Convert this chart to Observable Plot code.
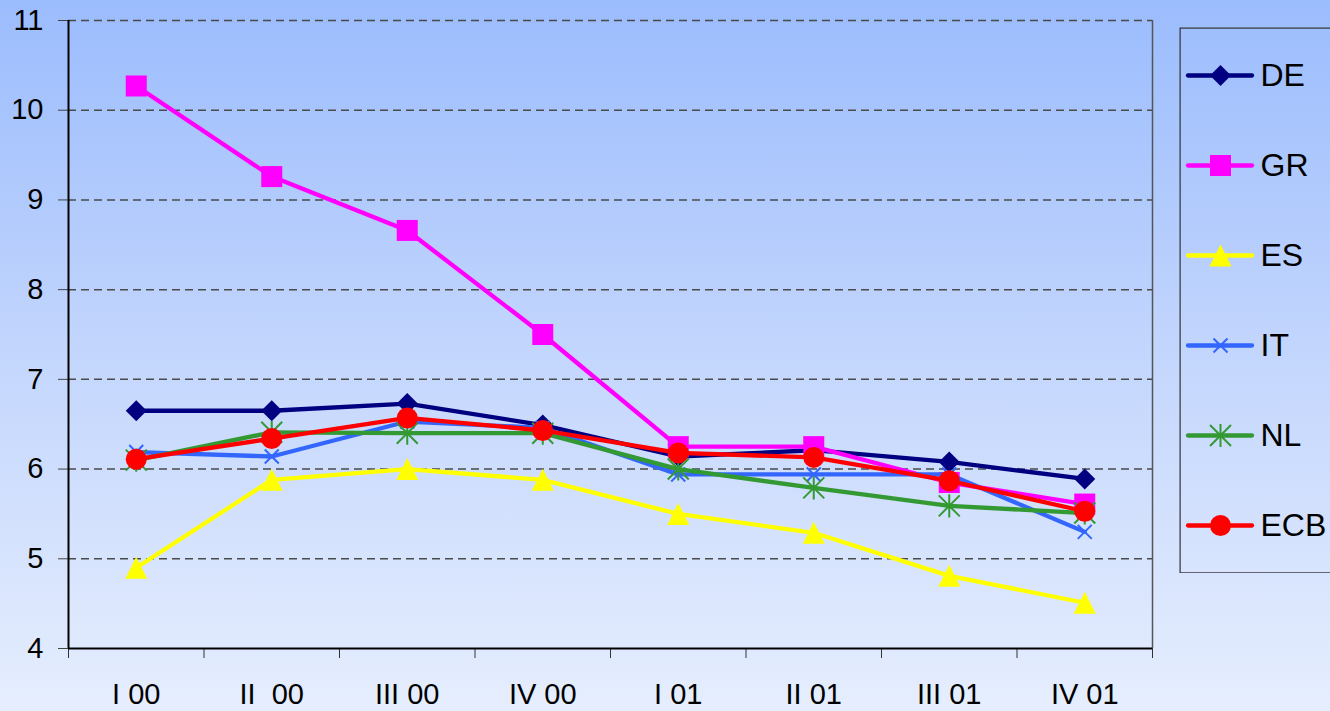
<!DOCTYPE html>
<html>
<head>
<meta charset="utf-8">
<script src="https://cdn.jsdelivr.net/npm/d3@7"></script>
<script src="https://cdn.jsdelivr.net/npm/@observablehq/plot@0.6"></script>
<style>
  html, body { margin: 0; padding: 0; width: 1330px; height: 711px; overflow: hidden; }
  body { background: linear-gradient(to bottom, #9bbcfd 0%, #c3d6fd 50%, #e6eefe 100%); }
  #wrap { position: relative; width: 1330px; height: 711px; }
  #legend { position: absolute; left: 1179px; top: 27px; width: 170px; }
  svg { max-width: none !important; }
</style>
</head>
<body>
<div id="wrap"><div id="chart"></div><div id="legend"></div></div>
<script>
// Quarterly values 2000–2001
const quarters = ["I 00", "II\u00a0 00", "III 00", "IV 00", "I 01", "II 01", "III 01", "IV 01"];
const series = ["DE", "GR", "ES", "IT", "NL", "ECB"];
const DE  = [6.65, 6.65, 6.73, 6.49, 6.14, 6.21, 6.08, 5.89];
const GR  = [10.27, 9.26, 8.66, 7.50, 6.25, 6.25, 5.85, 5.61];
const ES  = [4.90, 5.88, 6.00, 5.88, 5.50, 5.29, 4.81, 4.51];
const IT  = [6.19, 6.14, 6.53, 6.46, 5.94, 5.94, 5.94, 5.30];
const NL  = [6.10, 6.41, 6.40, 6.40, 6.00, 5.79, 5.59, 5.51];
const ECB = [6.11, 6.34, 6.57, 6.43, 6.18, 6.13, 5.87, 5.53];
const yTicks = [4, 5, 6, 7, 8, 9, 10, 11];

const values = {DE, GR, ES, IT, NL, ECB};
const colors = {DE: "#000080", GR: "#ff00ff", ES: "#ffff00", IT: "#3366ff", NL: "#339933", ECB: "#ff0000"};

// Marker shapes; r is the half-width of each shape
const shape = f => ({draw(ctx, size) { f(ctx, Math.sqrt(size / Math.PI)); }});
const diamond = shape((c, r) => { c.moveTo(0, -r); c.lineTo(r, 0); c.lineTo(0, r); c.lineTo(-r, 0); c.closePath(); });
const square = shape((c, r) => { c.rect(-r, -r, 2 * r, 2 * r); });
const triangle = shape((c, r) => { c.moveTo(0, -r); c.lineTo(r, r); c.lineTo(-r, r); c.closePath(); });
const cross = shape((c, r) => { c.moveTo(-r, -r); c.lineTo(r, r); c.moveTo(r, -r); c.lineTo(-r, r); });
const star = shape((c, r) => { c.moveTo(-r, -r); c.lineTo(r, r); c.moveTo(r, -r); c.lineTo(-r, r); c.moveTo(0, -r * 1.1); c.lineTo(0, r * 1.1); });
const circle = shape((c, r) => { c.moveTo(r, 0); c.arc(0, 0, r, 0, 2 * Math.PI); });

const markers = {
  DE:  {symbol: diamond,  r: 10.5, filled: true},
  GR:  {symbol: square,   r: 10.5, filled: true},
  ES:  {symbol: triangle, r: 11,   filled: true},
  IT:  {symbol: cross,    r: 7,    filled: false},
  NL:  {symbol: star,     r: 10.5, filled: false},
  ECB: {symbol: circle,   r: 10.5, filled: true}
};

function dotFor(name, data, opts) {
  const m = markers[name];
  return Plot.dot(data, {
    ...opts,
    symbol: m.symbol,
    r: m.r,
    fill: m.filled ? colors[name] : "none",
    stroke: m.filled ? "none" : colors[name],
    strokeWidth: m.filled ? 0 : 2
  });
}

const idx = d3.range(quarters.length);
const xDomain = [-0.5, quarters.length - 0.5];
const bounds = d3.range(quarters.length + 1).map(i => i - 0.5);

const seriesMarks = series.flatMap(name => {
  const pts = idx.map(i => ({i, v: values[name][i]}));
  return [
    Plot.line(pts, {x: "i", y: "v", stroke: colors[name], strokeWidth: 4.3, strokeLinejoin: "round"}),
    dotFor(name, pts, {x: "i", y: "v"})
  ];
});

const chart = Plot.plot({
  width: 1330,
  height: 711,
  marginLeft: 68,
  marginRight: 178,
  marginTop: 20,
  marginBottom: 63,
  style: {background: "transparent", fontFamily: "'Liberation Sans', Arial, sans-serif", fontSize: "29px", color: "black", maxWidth: "none"},
  x: {domain: xDomain, label: null},
  y: {domain: [yTicks[0], yTicks[yTicks.length - 1]], label: null},
  marks: [
    Plot.gridY(yTicks.slice(1), {stroke: "#4a4a4a", strokeOpacity: 1, strokeWidth: 1.5, strokeDasharray: "8,5"}),
    Plot.axisY(yTicks, {tickSize: 10, tickPadding: 15, tickFormat: d3.format("d"), stroke: "#444", fontSize: 29, label: null}),
    Plot.axisX(bounds, {tickSize: 10, tickFormat: () => "", stroke: "#333", label: null}),
    Plot.axisX(idx, {tickSize: 0, tickPadding: 35, tickFormat: i => quarters[i], fontSize: 29, label: null}),
    Plot.ruleX([xDomain[1]], {stroke: "#555", strokeWidth: 1.5}),
    Plot.ruleX([xDomain[0]], {stroke: "black", strokeWidth: 2}),
    Plot.ruleY([yTicks[0]], {stroke: "black", strokeWidth: 2}),
    ...seriesMarks
  ]
});
document.getElementById("chart").append(chart);

// Legend box with one sample line and marker per series
const legend = Plot.plot({
  width: 170,
  height: 546,
  margin: 0,
  style: {background: "transparent", fontFamily: "'Liberation Sans', Arial, sans-serif", fontSize: "32px", color: "black", maxWidth: "none"},
  x: {domain: [0, 170], axis: null},
  y: {type: "point", domain: series, padding: 0.516, axis: null},
  marks: [
    Plot.frame({stroke: "#333", strokeWidth: 1.2, inset: 0.6}),
    ...series.flatMap(name => [
      Plot.ruleY([name], {x1: 9, x2: 73, stroke: colors[name], strokeWidth: 4.3, strokeLinecap: "round"}),
      dotFor(name, [name], {x: () => 41, y: d => d})
    ]),
    Plot.text(series, {x: 81, y: d => d, text: d => d, textAnchor: "start", fontSize: 32, fill: "black"})
  ]
});
document.getElementById("legend").append(legend);
</script>
</body>
</html>
